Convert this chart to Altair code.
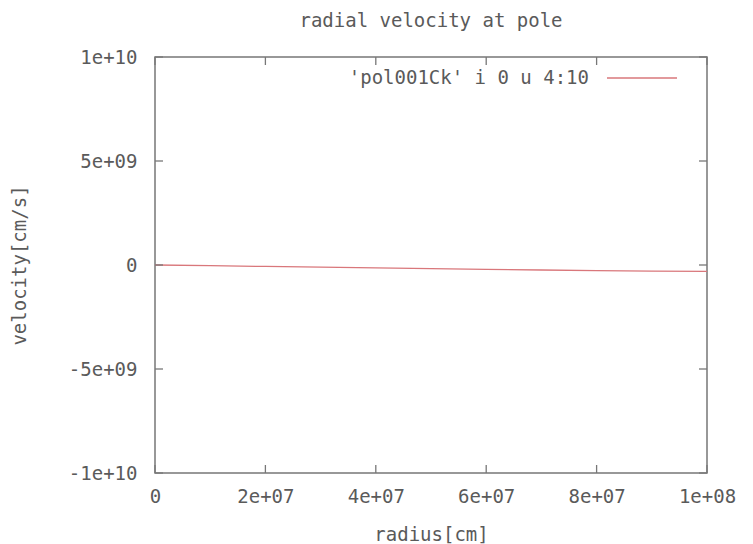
import altair as alt
import pandas as pd

# data
radius = [0, 1e7, 2e7, 3e7, 4e7, 5e7, 6e7, 7e7, 8e7, 9e7, 1e8]
velocity = [0, -3e7, -7e7, -1.0e8, -1.4e8, -1.7e8, -2.1e8, -2.4e8, -2.7e8, -2.9e8, -3.1e8]
x_ticks = [0, 2e7, 4e7, 6e7, 8e7, 1e8]
y_ticks = [-1e10, -5e9, 0, 5e9, 1e10]
series_label = "'pol001Ck' i 0 u 4:10"

FONT = "DejaVu Sans Mono"
FS = 19
GRAY = "#5a5a5a"
FRAME = "#777777"
LINE = "#d9777b"
W, H = 552, 416
TL = 8

df = pd.DataFrame({"radius": radius, "velocity": velocity})
xt = pd.DataFrame({"x": x_ticks})
yt = pd.DataFrame({"y": y_ticks})

xscale = alt.Scale(domain=[0, 1e8], nice=False, zero=False)
yscale = alt.Scale(domain=[-1e10, 1e10], nice=False, zero=False)

xaxis = alt.Axis(values=x_ticks, format=".0e", labelExpr="replace(replace(datum.label, 'e+7', 'e+07'), 'e+8', 'e+08') == '0e+0' ? '0' : replace(replace(datum.label, 'e+7', 'e+07'), 'e+8', 'e+08')",
                 ticks=False, grid=False, domain=False, labelFont=FONT, labelFontSize=FS,
                 labelColor=GRAY, labelPadding=14, title="radius[cm]", titleFont=FONT,
                 titleFontSize=FS, titleFontWeight="normal", titleColor=GRAY, titlePadding=19,
                 labelFlush=False)
yaxis = alt.Axis(values=y_ticks, labelExpr="datum.value == 0 ? '0' : (datum.value > 0 ? '' : '-') + (abs(datum.value) == 1e10 ? '1e+10' : '5e+09')",
                 ticks=False, grid=False, domain=False, labelFont=FONT, labelFontSize=FS,
                 labelColor=GRAY, labelPadding=18, title="velocity[cm/s]", titleFont=FONT,
                 titleFontSize=FS, titleFontWeight="normal", titleColor=GRAY, titlePadding=39)

line = alt.Chart(df).mark_line(color=LINE, strokeWidth=1.3).encode(
    x=alt.X("radius:Q", scale=xscale, axis=xaxis),
    y=alt.Y("velocity:Q", scale=yscale, axis=yaxis),
)

xb = alt.Chart(xt).mark_rule(color=FRAME, strokeWidth=1.3).encode(
    x=alt.X("x:Q", scale=xscale), y=alt.value(H), y2=alt.value(H - TL))
xtop = alt.Chart(xt).mark_rule(color=FRAME, strokeWidth=1.3).encode(
    x=alt.X("x:Q", scale=xscale), y=alt.value(0), y2=alt.value(TL))
yl = alt.Chart(yt).mark_rule(color=FRAME, strokeWidth=1.3).encode(
    y=alt.Y("y:Q", scale=yscale), x=alt.value(0), x2=alt.value(TL))
yr = alt.Chart(yt).mark_rule(color=FRAME, strokeWidth=1.3).encode(
    y=alt.Y("y:Q", scale=yscale), x=alt.value(W), x2=alt.value(W - TL))

leg_text = alt.Chart(pd.DataFrame({"t": [series_label]})).mark_text(
    font=FONT, fontSize=FS, color=GRAY, align="right", baseline="middle").encode(
    text="t:N", x=alt.value(434), y=alt.value(21))
leg_line = alt.Chart(pd.DataFrame({"t": [series_label]})).mark_rule(
    color=LINE, strokeWidth=1.3).encode(
    x=alt.value(452), x2=alt.value(522), y=alt.value(21))

chart = alt.layer(line, xb, xtop, yl, yr, leg_text, leg_line).properties(
    width=W, height=H,
    title=alt.TitleParams("radial velocity at pole", font=FONT, fontSize=FS,
                          fontWeight="normal", color=GRAY, anchor="middle", offset=17),
    autosize=alt.AutoSizeParams(type="none"),
    padding={"left": 155, "top": 57, "right": 46, "bottom": 71},
    background="white",
).configure_view(stroke=FRAME, strokeWidth=1.5)

chart.save("out.html", embed_options={"renderer": "svg", "actions": False})
